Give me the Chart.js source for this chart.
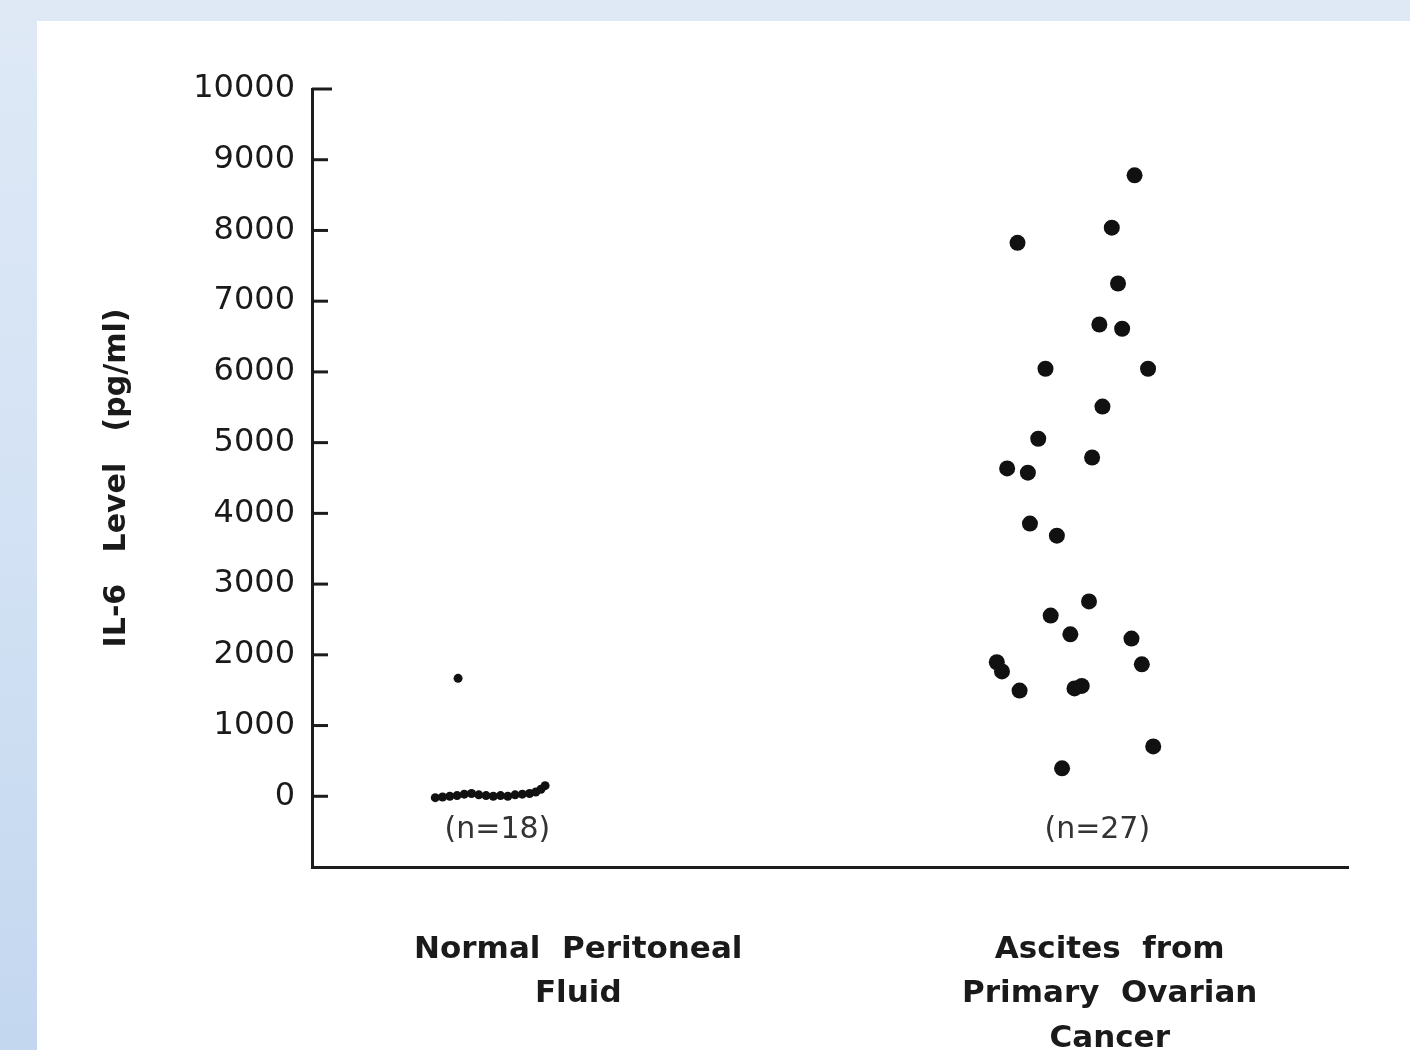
<!DOCTYPE html>
<html><head><meta charset="utf-8">
<script src="https://cdn.jsdelivr.net/npm/chart.js@4"></script>
<style>
html,body{margin:0;padding:0;width:1410px;height:1050px;overflow:hidden;background:linear-gradient(to bottom,#dfe9f6 0%,#d3e2f4 50%,#c3d7ef 100%);}
#panel{position:absolute;left:37px;top:21px;width:1373px;height:1029px;background:#fff;}
canvas{display:block}
</style></head>
<body><div id="panel"><canvas id="c" width="1373" height="1029"></canvas></div>
<script>
const categories = [["Normal  Peritoneal", "Fluid"], ["Ascites  from", "Primary  Ovarian", "Cancer"]];
const categoryPositions = [25.7, 77.0];
const sampleLabels = ["(n=18)", "(n=27)"];
const sampleLabelX = [17.9, 75.8];
const sampleLabelY = [-480, -480];
const yTickValues = [0, 1000, 2000, 3000, 4000, 5000, 6000, 7000, 8000, 9000, 10000];
const yAxisTitle = "IL-6   Level   (pg/ml)";

const normalX = [14.1, 11.9, 12.6, 13.3, 14.0, 14.7, 15.4, 16.1, 16.8, 17.5, 18.2, 18.9, 19.6, 20.3, 21.0, 21.6, 22.1, 22.5];
const normalY = [1667, -20, -10, 0, 10, 30, 40, 20, 10, 0, 10, 0, 20, 30, 40, 60, 100, 150];

const cancerX = [79.4, 68.1, 77.2, 77.8, 76.0, 78.2, 70.8, 80.7, 76.3, 70.1, 75.3, 67.1, 69.1, 69.3, 71.9, 75.0, 71.3, 73.2, 79.1, 66.1, 66.6, 80.1, 68.3, 73.6, 74.3, 81.2, 72.4];
const cancerY = [8780, 7825, 8040, 7250, 6670, 6610, 6045, 6045, 5510, 5055, 4790, 4635, 4575, 3855, 3685, 2755, 2555, 2290, 2230, 1895, 1765, 1865, 1495, 1525, 1560, 705, 395];

const toPts = (xs, ys) => xs.map((x, i) => ({x: x, y: ys[i]}));
const ink = '#1c1c1c';

const extras = {
  id: 'extras',
  afterDraw(chart) {
    const ctx = chart.ctx, y = chart.scales.y, x = chart.scales.x;
    const left = chart.chartArea.left;
    ctx.save();
    ctx.strokeStyle = ink; ctx.lineWidth = 3;
    yTickValues.forEach(v => {
      const py = y.getPixelForValue(v);
      ctx.beginPath(); ctx.moveTo(left, py); ctx.lineTo(left + (v === 10000 ? 20 : 16), py); ctx.stroke();
    });
    ctx.fillStyle = '#333';
    ctx.font = '30px "DejaVu Sans"';
    ctx.textAlign = 'center'; ctx.textBaseline = 'middle';
    sampleLabels.forEach((t, i) => ctx.fillText(t, x.getPixelForValue(sampleLabelX[i]), y.getPixelForValue(sampleLabelY[i])));
    ctx.restore();
  }
};

new Chart(document.getElementById('c'), {
  type: 'scatter',
  data: {
    datasets: [
      {label: 'Normal', data: toPts(normalX, normalY), backgroundColor: '#111', borderWidth: 0, pointRadius: 4.5},
      {label: 'Cancer', data: toPts(cancerX, cancerY), backgroundColor: '#111', borderWidth: 0, pointRadius: 8}
    ]
  },
  options: {
    responsive: false, animation: false, devicePixelRatio: 1,
    layout: {padding: {top: 68, right: 62, left: 0, bottom: 0}},
    plugins: {legend: {display: false}, tooltip: {enabled: false}},
    scales: {
      x: {
        type: 'linear', min: 0, max: 100,
        afterFit: s => { s.height = 183; },
        afterBuildTicks: s => { s.ticks = categoryPositions.map(v => ({value: v})); },
        grid: {display: false, drawTicks: false},
        border: {display: true, color: ink, width: 3},
        ticks: {
          padding: 60, maxRotation: 0, autoSkip: false, color: '#1a1a1a',
          font: {family: '"DejaVu Sans"', size: 31, weight: 'bold', lineHeight: 1.45},
          callback: (v, i) => categories[i]
        }
      },
      y: {
        min: -1000, max: 10000,
        afterFit: s => { s.width = 275; },
        afterBuildTicks: s => { s.ticks = yTickValues.map(v => ({value: v})); },
        grid: {display: false, drawTicks: false},
        border: {display: true, color: ink, width: 3},
        ticks: {padding: 17, color: '#1a1a1a', font: {family: '"DejaVu Sans"', size: 32},
                callback: v => String(v)},
        title: {display: true, text: yAxisTitle, color: '#1a1a1a', padding: {top: 62, bottom: 0},
                font: {family: '"DejaVu Sans"', size: 30, weight: 'bold'}}
      }
    }
  },
  plugins: [extras]
});
</script>
</body></html>
